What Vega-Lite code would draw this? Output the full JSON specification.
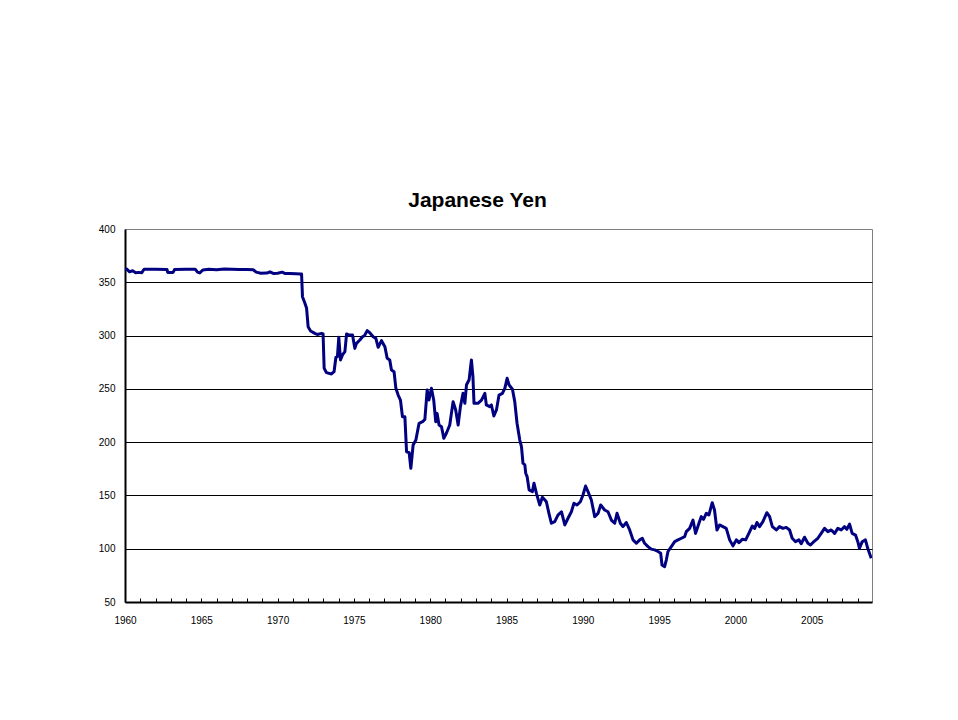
{
  "$schema": "https://vega.github.io/schema/vega-lite/v6.json",
  "autosize": {"type": "none"},
  "padding": {"left": 125, "top": 229, "right": 86, "bottom": 118},
  "width": 747,
  "height": 373,
  "background": "white",
  "title": {
    "text": "Japanese Yen",
    "font": "Liberation Sans",
    "fontSize": 21,
    "fontWeight": "bold",
    "color": "black",
    "anchor": "middle",
    "dx": -21,
    "dy": 25,
    "offset": 21,
    "baseline": "alphabetic"
  },
  "config": {
    "view": {"stroke": "#808080", "strokeWidth": 1},
    "axis": {"labelFont": "Liberation Sans", "labelFontSize": 10, "labelColor": "black"}
  },
  "data": {
    "values": [
      {"year": 1960.0, "yen": 361.5}, {"year": 1960.1, "yen": 362.5}, {"year": 1960.3, "yen": 359.8}, {"year": 1960.5, "yen": 360.8},
      {"year": 1960.7, "yen": 359.0}, {"year": 1960.9, "yen": 359.3}, {"year": 1961.1, "yen": 359.0}, {"year": 1961.25, "yen": 362.2},
      {"year": 1962.0, "yen": 362.3}, {"year": 1962.75, "yen": 362.0}, {"year": 1962.8, "yen": 359.3}, {"year": 1963.15, "yen": 359.3},
      {"year": 1963.25, "yen": 362.0}, {"year": 1964.0, "yen": 362.2}, {"year": 1964.6, "yen": 362.3}, {"year": 1964.75, "yen": 359.5},
      {"year": 1964.9, "yen": 358.8}, {"year": 1965.1, "yen": 361.5}, {"year": 1965.5, "yen": 362.3}, {"year": 1966.0, "yen": 361.8},
      {"year": 1966.5, "yen": 362.5}, {"year": 1967.0, "yen": 362.3}, {"year": 1967.5, "yen": 362.0}, {"year": 1968.0, "yen": 362.0},
      {"year": 1968.4, "yen": 361.8}, {"year": 1968.6, "yen": 359.5}, {"year": 1968.9, "yen": 358.5}, {"year": 1969.3, "yen": 358.6},
      {"year": 1969.5, "yen": 359.8}, {"year": 1969.75, "yen": 358.2}, {"year": 1970.0, "yen": 358.5}, {"year": 1970.3, "yen": 359.5},
      {"year": 1970.5, "yen": 358.2}, {"year": 1970.8, "yen": 358.3}, {"year": 1971.2, "yen": 358.0}, {"year": 1971.5, "yen": 357.8},
      {"year": 1971.57, "yen": 357.8}, {"year": 1971.63, "yen": 336.5}, {"year": 1971.79, "yen": 330.3}, {"year": 1971.9, "yen": 325.6},
      {"year": 1972.0, "yen": 308.3}, {"year": 1972.16, "yen": 304.3}, {"year": 1972.44, "yen": 302.1}, {"year": 1972.6, "yen": 301.0},
      {"year": 1972.88, "yen": 302.1}, {"year": 1972.98, "yen": 301.5}, {"year": 1973.05, "yen": 269.3}, {"year": 1973.2, "yen": 265.2},
      {"year": 1973.53, "yen": 264.0}, {"year": 1973.7, "yen": 266.1}, {"year": 1973.82, "yen": 279.6}, {"year": 1973.92, "yen": 280.2},
      {"year": 1974.01, "yen": 298.4}, {"year": 1974.12, "yen": 277.1}, {"year": 1974.25, "yen": 281.8}, {"year": 1974.41, "yen": 284.9},
      {"year": 1974.52, "yen": 301.5}, {"year": 1974.69, "yen": 300.5}, {"year": 1974.91, "yen": 300.5}, {"year": 1975.06, "yen": 288.0},
      {"year": 1975.17, "yen": 292.7}, {"year": 1975.39, "yen": 295.8}, {"year": 1975.56, "yen": 298.9}, {"year": 1975.7, "yen": 300.0},
      {"year": 1975.87, "yen": 304.6}, {"year": 1976.04, "yen": 302.7}, {"year": 1976.26, "yen": 298.9}, {"year": 1976.44, "yen": 297.4},
      {"year": 1976.59, "yen": 289.0}, {"year": 1976.81, "yen": 295.2}, {"year": 1977.03, "yen": 289.6}, {"year": 1977.18, "yen": 278.7},
      {"year": 1977.35, "yen": 277.1}, {"year": 1977.46, "yen": 267.7}, {"year": 1977.63, "yen": 266.1}, {"year": 1977.75, "yen": 250.5},
      {"year": 1977.9, "yen": 244.2}, {"year": 1978.05, "yen": 239.5}, {"year": 1978.18, "yen": 223.9}, {"year": 1978.34, "yen": 223.9},
      {"year": 1978.45, "yen": 191.0}, {"year": 1978.62, "yen": 190.1}, {"year": 1978.73, "yen": 175.5}, {"year": 1978.88, "yen": 197.3},
      {"year": 1979.06, "yen": 202.0}, {"year": 1979.27, "yen": 217.7}, {"year": 1979.5, "yen": 219.2}, {"year": 1979.65, "yen": 221.4},
      {"year": 1979.8, "yen": 248.9}, {"year": 1979.92, "yen": 239.5}, {"year": 1980.08, "yen": 250.5}, {"year": 1980.23, "yen": 239.5},
      {"year": 1980.36, "yen": 219.2}, {"year": 1980.45, "yen": 227.0}, {"year": 1980.58, "yen": 216.1}, {"year": 1980.74, "yen": 214.5},
      {"year": 1980.89, "yen": 203.6}, {"year": 1981.06, "yen": 208.3}, {"year": 1981.28, "yen": 216.1}, {"year": 1981.5, "yen": 238.0},
      {"year": 1981.67, "yen": 230.2}, {"year": 1981.83, "yen": 216.1}, {"year": 1981.98, "yen": 233.3}, {"year": 1982.15, "yen": 245.8},
      {"year": 1982.27, "yen": 236.4}, {"year": 1982.38, "yen": 253.9}, {"year": 1982.55, "yen": 258.6}, {"year": 1982.7, "yen": 277.1},
      {"year": 1982.8, "yen": 261.4}, {"year": 1982.87, "yen": 236.4}, {"year": 1983.13, "yen": 236.4}, {"year": 1983.36, "yen": 239.5},
      {"year": 1983.58, "yen": 245.8}, {"year": 1983.68, "yen": 234.9}, {"year": 1983.9, "yen": 233.3}, {"year": 1984.01, "yen": 234.9},
      {"year": 1984.17, "yen": 224.5}, {"year": 1984.34, "yen": 230.2}, {"year": 1984.51, "yen": 244.2}, {"year": 1984.73, "yen": 245.8},
      {"year": 1984.89, "yen": 250.5}, {"year": 1985.04, "yen": 259.9}, {"year": 1985.17, "yen": 253.6}, {"year": 1985.39, "yen": 249.6},
      {"year": 1985.54, "yen": 238.0}, {"year": 1985.69, "yen": 217.7}, {"year": 1985.87, "yen": 202.0}, {"year": 1985.98, "yen": 195.8},
      {"year": 1986.08, "yen": 180.2}, {"year": 1986.2, "yen": 178.6}, {"year": 1986.26, "yen": 170.8}, {"year": 1986.35, "yen": 167.7},
      {"year": 1986.48, "yen": 155.2}, {"year": 1986.7, "yen": 153.6}, {"year": 1986.8, "yen": 161.5}, {"year": 1986.96, "yen": 152.0},
      {"year": 1987.18, "yen": 141.0}, {"year": 1987.35, "yen": 148.3}, {"year": 1987.5, "yen": 146.0}, {"year": 1987.61, "yen": 144.1},
      {"year": 1987.78, "yen": 133.2}, {"year": 1987.94, "yen": 123.9}, {"year": 1988.16, "yen": 125.4}, {"year": 1988.37, "yen": 131.6},
      {"year": 1988.6, "yen": 134.7}, {"year": 1988.82, "yen": 122.3}, {"year": 1989.03, "yen": 128.6}, {"year": 1989.25, "yen": 134.7},
      {"year": 1989.42, "yen": 142.6}, {"year": 1989.62, "yen": 141.0}, {"year": 1989.84, "yen": 144.1}, {"year": 1990.01, "yen": 150.4},
      {"year": 1990.18, "yen": 158.8}, {"year": 1990.34, "yen": 153.6}, {"year": 1990.56, "yen": 145.7}, {"year": 1990.78, "yen": 130.1},
      {"year": 1991.0, "yen": 133.2}, {"year": 1991.17, "yen": 141.0}, {"year": 1991.43, "yen": 136.3}, {"year": 1991.65, "yen": 134.7},
      {"year": 1991.87, "yen": 126.9}, {"year": 1992.09, "yen": 123.9}, {"year": 1992.24, "yen": 133.2}, {"year": 1992.46, "yen": 123.9},
      {"year": 1992.63, "yen": 120.7}, {"year": 1992.85, "yen": 124.6}, {"year": 1993.07, "yen": 117.6}, {"year": 1993.29, "yen": 108.3},
      {"year": 1993.51, "yen": 105.1}, {"year": 1993.73, "yen": 108.3}, {"year": 1993.9, "yen": 109.8}, {"year": 1994.05, "yen": 105.1},
      {"year": 1994.27, "yen": 102.0}, {"year": 1994.49, "yen": 99.6}, {"year": 1994.71, "yen": 98.9}, {"year": 1994.93, "yen": 97.4},
      {"year": 1995.1, "yen": 95.8}, {"year": 1995.19, "yen": 84.7}, {"year": 1995.36, "yen": 83.2}, {"year": 1995.47, "yen": 89.4},
      {"year": 1995.58, "yen": 97.4}, {"year": 1995.8, "yen": 102.0}, {"year": 1996.02, "yen": 106.6}, {"year": 1996.24, "yen": 108.3},
      {"year": 1996.46, "yen": 109.8}, {"year": 1996.67, "yen": 111.3}, {"year": 1996.78, "yen": 116.0}, {"year": 1997.0, "yen": 119.1},
      {"year": 1997.22, "yen": 126.9}, {"year": 1997.39, "yen": 114.4}, {"year": 1997.61, "yen": 123.9}, {"year": 1997.76, "yen": 130.1},
      {"year": 1997.91, "yen": 127.6}, {"year": 1998.09, "yen": 133.2}, {"year": 1998.26, "yen": 131.6}, {"year": 1998.48, "yen": 143.2},
      {"year": 1998.63, "yen": 136.3}, {"year": 1998.79, "yen": 117.6}, {"year": 1998.96, "yen": 122.3}, {"year": 1999.18, "yen": 120.7},
      {"year": 1999.4, "yen": 119.1}, {"year": 1999.62, "yen": 108.3}, {"year": 1999.84, "yen": 102.7}, {"year": 2000.06, "yen": 108.3},
      {"year": 2000.23, "yen": 105.7}, {"year": 2000.45, "yen": 108.8}, {"year": 2000.67, "yen": 108.3}, {"year": 2000.88, "yen": 114.4},
      {"year": 2001.11, "yen": 121.3}, {"year": 2001.26, "yen": 119.1}, {"year": 2001.41, "yen": 124.6}, {"year": 2001.58, "yen": 120.7},
      {"year": 2001.8, "yen": 125.4}, {"year": 2002.06, "yen": 133.8}, {"year": 2002.24, "yen": 130.1}, {"year": 2002.42, "yen": 120.7},
      {"year": 2002.68, "yen": 117.6}, {"year": 2002.89, "yen": 120.7}, {"year": 2003.11, "yen": 119.1}, {"year": 2003.33, "yen": 120.0},
      {"year": 2003.55, "yen": 117.6}, {"year": 2003.72, "yen": 109.8}, {"year": 2003.94, "yen": 106.6}, {"year": 2004.16, "yen": 108.3},
      {"year": 2004.31, "yen": 104.7}, {"year": 2004.53, "yen": 110.8}, {"year": 2004.75, "yen": 105.1}, {"year": 2004.92, "yen": 103.5},
      {"year": 2005.14, "yen": 106.6}, {"year": 2005.4, "yen": 109.8}, {"year": 2005.62, "yen": 114.4}, {"year": 2005.84, "yen": 119.1},
      {"year": 2006.06, "yen": 116.0}, {"year": 2006.28, "yen": 117.6}, {"year": 2006.5, "yen": 114.4}, {"year": 2006.71, "yen": 119.1},
      {"year": 2006.93, "yen": 117.6}, {"year": 2007.15, "yen": 120.7}, {"year": 2007.3, "yen": 118.2}, {"year": 2007.48, "yen": 123.1},
      {"year": 2007.65, "yen": 114.4}, {"year": 2007.87, "yen": 112.8}, {"year": 2008.02, "yen": 106.6}, {"year": 2008.13, "yen": 100.4},
      {"year": 2008.31, "yen": 106.6}, {"year": 2008.52, "yen": 108.3}, {"year": 2008.67, "yen": 100.4}, {"year": 2008.9, "yen": 91.0}
    ]
  },
  "mark": {"type": "line", "color": "#000080", "strokeWidth": 3, "strokeJoin": "round", "clip": true},
  "encoding": {
    "x": {
      "field": "year",
      "type": "quantitative",
      "scale": {"domain": [1960, 2008.95], "nice": false, "zero": false},
      "axis": {
        "title": null,
        "values": [1960,1961,1962,1963,1964,1965,1966,1967,1968,1969,1970,1971,1972,1973,1974,1975,1976,1977,1978,1979,1980,1981,1982,1983,1984,1985,1986,1987,1988,1989,1990,1991,1992,1993,1994,1995,1996,1997,1998,1999,2000,2001,2002,2003,2004,2005,2006,2007,2008],
        "format": "d",
        "labelExpr": "datum.value % 5 === 0 ? datum.label : ''",
        "labelOverlap": false,
        "labelFlush": false,
        "grid": false,
        "domainColor": "black",
        "domainWidth": 2,
        "tickColor": "black",
        "tickWidth": 1,
        "tickSize": -4,
        "labelPadding": 17
      }
    },
    "y": {
      "field": "yen",
      "type": "quantitative",
      "scale": {"domain": [50, 400], "nice": false, "zero": false},
      "axis": {
        "title": null,
        "values": [50, 100, 150, 200, 250, 300, 350, 400],
        "ticks": false,
        "labelPadding": 10,
        "domainColor": "black",
        "domainWidth": 2,
        "grid": true,
        "gridWidth": 1,
        "gridColor": {"condition": {"test": "datum.value === 50 || datum.value === 400", "value": "transparent"}, "value": "black"}
      }
    }
  }
}
